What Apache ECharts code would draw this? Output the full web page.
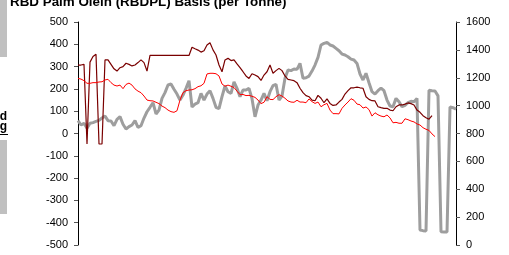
<!DOCTYPE html>
<html>
<head>
<meta charset="utf-8">
<script src="https://cdn.jsdelivr.net/npm/echarts@6/dist/echarts.min.js"></script>
<style>
  html, body { margin: 0; padding: 0; background: #fff; }
  #chart { width: 509px; height: 255px; }
</style>
</head>
<body>
<div id="chart"></div>
<script>
// 标题（截图上方被裁掉一半）
const titleText = 'RBD Palm Olein (RBDPL) Basis (per Tonne)';

// 左轴刻度 / 右轴刻度
const leftTicks = [-500, -400, -300, -200, -100, 0, 100, 200, 300, 400, 500];
const rightTicks = [0, 200, 400, 600, 800, 1000, 1200, 1400, 1600];

// 深红线（左轴）
const basisDark = [
  307, 307, 310, -47, 320, 345, 355, -47, -47, 330,
  330, 310, 290, 280, 295, 300, 315, 310, 303, 307,
  318, 330, 318, 280, 350, 350, 350, 350, 350, 350,
  350, 350, 350, 350, 350, 350, 350, 350, 387, 380,
  374, 365, 371, 397, 407, 375, 352, 307, 277, 330,
  337, 327, 330, 312, 295, 277, 258, 247, 268, 262,
  255, 238, 262, 277, 307, 270, 282, 292, 282, 258,
  243, 240, 237, 228, 203, 183, 170, 165, 150, 147,
  171, 158, 138, 155, 135, 126, 128, 141, 153, 177,
  192, 205, 205, 208, 205, 203, 165, 153, 147, 146,
  120, 116, 113, 113, 105, 102, 120, 128, 128, 132,
  137, 134, 128, 105, 95, 80, 71, 64, 80, null,
  null, null, null, null, null, null, null
];

// 红线（左轴）
const basisRed = [
  247, 244, 237, 225, 225, 228, 228, 231, 232, 240,
  243, 228, 217, 213, 217, 201, 220, 226, 217, 200,
  190, 183, 168, 150, 147, 146, 140, 134, 123, 116,
  105, 98, 95, 102, 150, 183, 192, 195, 196, 201,
  210, 214, 225, 267, 270, 270, 268, 258, 222, 212,
  217, 212, 206, 190, 174, 175, 170, 171, 167, 162,
  150, 134, 140, 165, 153, 152, 165, 174, 168, 158,
  146, 141, 140, 149, 141, 141, 138, 155, 143, 135,
  141, 120, 129, 135, 105, 89, 89, 88, 113, 128,
  141, 156, 149, 132, 129, 114, 119, 107, 78, 93,
  84, 78, 75, 83, 70, 48, 50, 46, 46, 66,
  62, 56, 52, 43, 38, 26, 19, 14, -2, -14,
  null, null, null, null, null, null, null
];

// 灰线（右轴，价格）
const priceGray = [
  892, 861, 873, 837, 873, 878, 887, 894, 911, 925,
  892, 890, 856, 902, 921, 866, 832, 849, 861, 892,
  844, 856, 911, 956, 988, 1021, 940, 968, 1052, 1093,
  1148, 1155, 1117, 1083, 1040, 1076, 1124, 1179, 990, 1011,
  1021, 1088, 1040, 1083, 1107, 1052, 988, 978, 1064, 1141,
  1100, 1088, 1171, 1124, 1064, 1112, 1112, 1124, 1050, 920,
  1004, 1040, 1088, 1035, 1100, 1143, 1153, 1040, 1069, 1196,
  1255, 1251, 1263, 1260, 1303, 1196, 1200, 1212, 1248, 1291,
  1346, 1435, 1447, 1454, 1435, 1428, 1411, 1394, 1370, 1363,
  1351, 1334, 1327, 1303, 1227, 1184, 1232, 1164, 1100, 1083,
  1107, 1126, 1107, 1040, 997, 992, 1052, 1028, 992, 1002,
  1021, 1031, 1028, 1052, 108, 103, 100, 1110, 1107, 1105,
  1070, 95, 93, 93, 990, 985, 975
];

const points = priceGray.map((_, i) => String(i));

const font = '"Liberation Sans", Arial, sans-serif';

const chart = echarts.init(document.getElementById('chart'));

const axisCommon = {
  type: 'value',
  axisLine: { show: true, lineStyle: { color: '#000', width: 1 } },
  axisTick: { show: true, length: 4, lineStyle: { color: '#555' } },
  splitLine: { show: false },
  axisLabel: {
    color: '#000',
    fontSize: 11,
    fontFamily: font,
    margin: 10,
    formatter: v => String(v)
  }
};

chart.setOption({
  animation: false,
  backgroundColor: '#fff',
  grid: { left: 78, right: 53, top: 22, bottom: 10 },
  xAxis: {
    type: 'category',
    data: points,
    boundaryGap: false,
    show: false
  },
  yAxis: [
    Object.assign({}, axisCommon, {
      min: leftTicks[0],
      max: leftTicks[leftTicks.length - 1],
      interval: 100,
      position: 'left'
    }),
    Object.assign({}, axisCommon, {
      min: rightTicks[0],
      max: rightTicks[rightTicks.length - 1],
      interval: 200,
      position: 'right'
    })
  ],
  series: [
    {
      name: 'Price',
      type: 'line',
      yAxisIndex: 1,
      data: priceGray,
      symbol: 'none',
      lineStyle: { color: '#9e9e9e', width: 3 },
      z: 1
    },
    {
      name: 'Basis 2',
      type: 'line',
      yAxisIndex: 0,
      data: basisDark,
      symbol: 'none',
      lineStyle: { color: '#7a0000', width: 1.2 },
      z: 2
    },
    {
      name: 'Basis 1',
      type: 'line',
      yAxisIndex: 0,
      data: basisRed,
      symbol: 'none',
      lineStyle: { color: '#ff0000', width: 1 },
      z: 3
    }
  ],
  graphic: [
    // 左侧被裁掉的灰色块和文字
    { type: 'rect', left: 0, top: 0, shape: { width: 7, height: 57 }, style: { fill: '#c0c0c0' } },
    { type: 'rect', left: 0, top: 140, shape: { width: 7, height: 74 }, style: { fill: '#c0c0c0' } },
    {
      type: 'text', x: 7, y: 117,
      style: { text: 'd', font: 'bold 12px ' + font, fill: '#000', textAlign: 'right', textVerticalAlign: 'middle' }
    },
    {
      type: 'text', x: 7, y: 127,
      style: { text: 'g', font: 'bold 12px ' + font, fill: '#000', textAlign: 'right', textVerticalAlign: 'middle' }
    },
    { type: 'rect', left: 0, top: 134, shape: { width: 8, height: 1 }, style: { fill: '#000' } },
    {
      type: 'text', x: 10, y: 9,
      style: { text: titleText, font: 'bold 13.4px ' + font, fill: '#000', textAlign: 'left', textVerticalAlign: 'bottom' }
    }
  ]
});
</script>
</body>
</html>
